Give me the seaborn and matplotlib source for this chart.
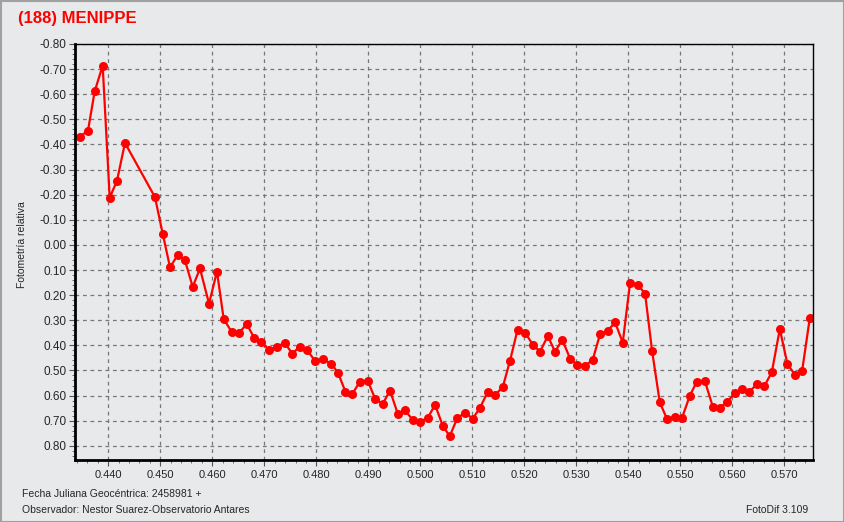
"""
Relative photometry light curve of (188) Menippe, FotoDif style.
"""
import matplotlib
matplotlib.use('Agg')
import matplotlib.pyplot as plt
import matplotlib.ticker as mticker
from matplotlib.patches import Rectangle
import numpy as np
import pandas as pd
import seaborn as sns

# Julian date fraction (JD 2458981 + x) and relative magnitude
jd_frac = [
    0.43455, 0.43610, 0.43738, 0.43892, 0.44027, 0.44167, 0.44321, 0.44898,
    0.45046, 0.45187, 0.45340, 0.45475, 0.45623, 0.45763, 0.45937, 0.46090,
    0.46219, 0.46373, 0.46513, 0.46662, 0.46802, 0.46942, 0.47090, 0.47238,
    0.47392, 0.47538, 0.47681, 0.47821, 0.47975, 0.48129, 0.48288, 0.48417,
    0.48558, 0.48692, 0.48835, 0.48988, 0.49129, 0.49277, 0.49417, 0.49565,
    0.49706, 0.49854, 0.49994, 0.50142, 0.50283, 0.50431, 0.50565, 0.50712,
    0.50860, 0.51008, 0.51148, 0.51296, 0.51437, 0.51585, 0.51725, 0.51869,
    0.52013, 0.52162, 0.52302, 0.52450, 0.52590, 0.52731, 0.52879, 0.53019,
    0.53167, 0.53315, 0.53456, 0.53604, 0.53744, 0.53892, 0.54033, 0.54181,
    0.54321, 0.54456, 0.54604, 0.54744, 0.54892, 0.55033, 0.55183, 0.55315,
    0.55469, 0.55623, 0.55763, 0.55904, 0.56046, 0.56187, 0.56327, 0.56475,
    0.56615, 0.56758, 0.56912, 0.57058, 0.57206, 0.57340, 0.57488,
]
rel_mag = [
    -0.431, -0.455, -0.611, -0.714, -0.188, -0.255, -0.406, -0.190,
    -0.045, 0.089, 0.039, 0.062, 0.167, 0.094, 0.234, 0.106,
    0.295, 0.347, 0.351, 0.315, 0.369, 0.386, 0.418, 0.406,
    0.390, 0.433, 0.405, 0.418, 0.462, 0.456, 0.473, 0.509,
    0.584, 0.594, 0.545, 0.541, 0.612, 0.633, 0.580, 0.672,
    0.659, 0.697, 0.704, 0.689, 0.637, 0.720, 0.762, 0.689,
    0.668, 0.692, 0.648, 0.586, 0.598, 0.566, 0.461, 0.338,
    0.349, 0.397, 0.425, 0.363, 0.425, 0.378, 0.453, 0.478,
    0.482, 0.457, 0.355, 0.342, 0.308, 0.389, 0.150, 0.159,
    0.194, 0.422, 0.627, 0.694, 0.684, 0.688, 0.600, 0.545,
    0.541, 0.644, 0.648, 0.624, 0.591, 0.574, 0.584, 0.555,
    0.562, 0.507, 0.335, 0.474, 0.518, 0.503, 0.292,
]

x_ticks = np.round(np.arange(0.44, 0.5701, 0.01), 3)
y_ticks = np.round(np.arange(-0.8, 0.8001, 0.1), 2)

BG = '#e8e9ea'


def fmt_mag(v, _pos):
    v = round(v, 2)
    return f'{0.0 if v == 0 else v:.2f}'


sns.set_theme(style='ticks')
plt.rcParams['font.family'] = ['Liberation Sans', 'DejaVu Sans']

df = pd.DataFrame({'jd': jd_frac, 'mag': rel_mag})

fig = plt.figure(figsize=(8.44, 5.22), dpi=100, facecolor=BG)
ax = fig.add_axes([75 / 844, 1 - 460 / 522, 738 / 844, 416 / 522])
ax.set_facecolor(BG)

sns.lineplot(data=df, x='jd', y='mag', ax=ax, sort=False, color='#ff0000',
             linewidth=1.6, marker='o', markersize=6.5, markeredgewidth=0,
             estimator=None)

ax.set_xlim(0.4336, 0.5755)
ax.set_ylim(0.8566, -0.80)
ax.set_xticks(x_ticks)
ax.set_yticks(y_ticks)
ax.xaxis.set_major_formatter(mticker.FormatStrFormatter('%.3f'))
ax.yaxis.set_major_formatter(mticker.FuncFormatter(fmt_mag))
ax.xaxis.set_minor_locator(mticker.AutoMinorLocator(5))
ax.yaxis.set_minor_locator(mticker.AutoMinorLocator(5))
ax.tick_params(axis='both', which='major', length=4, width=0.8, color='#555555',
               pad=2)
ax.tick_params(axis='both', which='minor', length=2, width=0.6, color='#555555')
ax.tick_params(axis='y', labelsize=8.5)
ax.tick_params(axis='x', labelsize=8, pad=3)

ax.grid(True, which='major', linestyle=(0, (3, 3)), color='#777777', linewidth=0.9)
ax.set_xlabel('')
ax.set_ylabel('')

for side in ['left', 'bottom']:
    ax.spines[side].set_linewidth(2.0)
    ax.spines[side].set_color('black')
for side in ['top', 'right']:
    ax.spines[side].set_linewidth(1.0)
    ax.spines[side].set_color('black')
    ax.spines[side].set_visible(True)

fig.text(18 / 844, 1 - 18 / 522, '(188) MENIPPE', color='#ff0000', fontsize=12,
         fontweight='bold', ha='left', va='center')
fig.text(22 / 844, 1 - 245 / 522, 'Fotometría relativa', rotation=90,
         fontsize=7.5, ha='center', va='center')
fig.text(22 / 844, 1 - 494 / 522, 'Fecha Juliana Geocéntrica: 2458981 +',
         fontsize=7.5, ha='left', va='center')
fig.text(22 / 844, 1 - 510 / 522, 'Observador: Nestor Suarez-Observatorio Antares',
         fontsize=7.5, ha='left', va='center')
fig.text(808 / 844, 1 - 510 / 522, 'FotoDif 3.109', fontsize=7.5,
         ha='right', va='center')

fig.patches.append(Rectangle((0.5 / 844, 0.5 / 522), 843 / 844, 521 / 522,
                             transform=fig.transFigure, fill=False,
                             edgecolor='#a0a0a0', linewidth=1.5))

fig.savefig('out.png', dpi=100, facecolor=BG)
